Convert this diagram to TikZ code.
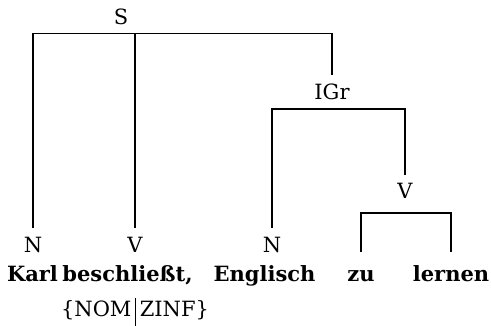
\documentclass[tikz,border=0pt]{standalone}
\usepackage{fontspec}
\setmainfont{DejaVu Serif}
\begin{document}
\begin{tikzpicture}[x=1pt,y=-1pt,
  lbl/.style={anchor=base,inner sep=0pt,font=\fontsize{21}{25}\selectfont},
  word/.style={anchor=base,inner sep=0pt,font=\fontsize{21}{25}\selectfont\bfseries},
  tree/.style={line width=1.3pt,line cap=butt}]
\useasboundingbox (0,0) rectangle (491,326);
% category labels
\node[lbl] (S) at (121,25) {S};
\node[lbl] (IGr) at (332,100) {IGr};
\node[lbl] (V2) at (405,199) {V};
\node[lbl] (N1) at (33,253) {N};
\node[lbl] (V1) at (135,253) {V};
\node[lbl] (N2) at (272,253) {N};
% words
\node[word] (karl) at (32.5,282) {Karl};
\node[word] (besch) at (127.5,282) {beschließt,};
\node[word] (engl) at (264.5,282) {Englisch};
\node[word] (zu) at (361,282) {zu};
\node[word] (lernen) at (451,282) {lernen};
\node[lbl] (val) at (135,317) {\{NOM\,\rule[-9pt]{1.3pt}{28pt}\,ZINF\}};
% bar levels
\coordinate (sbar) at (0,33.5);
\coordinate (ibar) at (0,109);
\coordinate (vbar) at (0,213);
\coordinate (lend) at (0,228);
\coordinate (iend) at (0,75);
\coordinate (v2end) at (0,175);
\coordinate (wend) at (0,252);
% connectors
\draw[tree] (N1 |- lend) -- (N1 |- sbar) -- (IGr |- sbar) -- (IGr |- iend);
\draw[tree] (V1 |- lend) -- (V1 |- sbar);
\draw[tree] (N2 |- lend) -- (N2 |- ibar) -- (V2 |- ibar) -- (V2 |- v2end);
\draw[tree] (zu |- wend) -- (zu |- vbar) -- (lernen |- vbar) -- (lernen |- wend);
\end{tikzpicture}
\end{document}
